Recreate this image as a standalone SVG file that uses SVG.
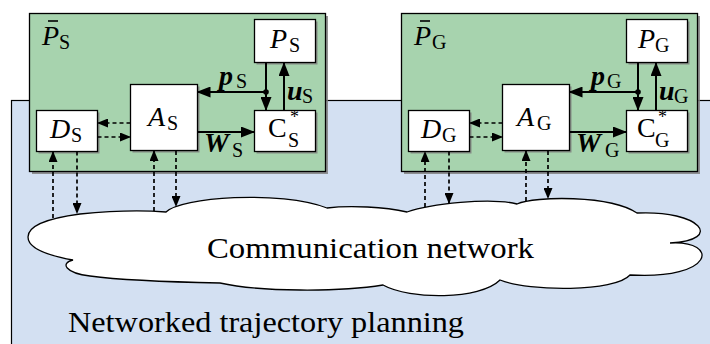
<svg xmlns="http://www.w3.org/2000/svg" width="710" height="344" viewBox="0 0 710 344">
<defs>
<marker id="ah" markerUnits="userSpaceOnUse" markerWidth="14" markerHeight="11" refX="13" refY="5.5" orient="auto"><path d="M0,0 L14,5.5 L0,11 Z" fill="#000"/></marker>
<marker id="ahd" markerUnits="userSpaceOnUse" markerWidth="11" markerHeight="9" refX="10" refY="4.5" orient="auto"><path d="M0,0 L11,4.5 L0,9 Z" fill="#000"/></marker>
</defs>
<style>
.box{fill:#fff;stroke:#000;stroke-width:1.3}
.sh{fill:#808080;opacity:0.85}
.grn{fill:#a7d3ae;stroke:#000;stroke-width:1.3}
.m{font-family:"Liberation Serif",serif;font-style:italic;font-size:28px}
.b{font-family:"Liberation Serif",serif;font-style:italic;font-weight:bold;font-size:28px}
.r{font-family:"Liberation Serif",serif;font-size:28px}
.sub{font-family:"Liberation Serif",serif;font-size:20px}
.star{font-family:"Liberation Serif",serif;font-size:18px}
.big{font-family:"Liberation Serif",serif;font-size:30px}
.bar{stroke:#000;stroke-width:1.6}
.sol{stroke:#000;stroke-width:2;fill:none;marker-end:url(#ah)}
.dsh{stroke:#000;stroke-width:1.7;fill:none;stroke-dasharray:4 3;marker-end:url(#ahd)}
</style>
<g id="environment">
<rect x="11.5" y="100.5" width="710" height="300" fill="#d3e0f2" stroke="#000" stroke-width="1.2"/>
<text class="big" x="68" y="332" textLength="396" lengthAdjust="spacingAndGlyphs">Networked trajectory planning</text>
</g>
<g id="cloud">
<path d="M73,260 C45,255 28,248 28,237 C28,225 50,218 80,214 C110,211 140,210 166,212 C180,197 280,190 327,208 C350,205 385,207 407,212 C430,204 490,197 517,204 C535,196 610,195 637,213 C700,210 725,240 670,243 C720,240 715,280 630,275 C615,292 530,292 500,280 C480,300 410,300 383,285 C340,292 260,292 220,283 C170,282 120,280 90,276 C65,273 60,263 73,260 Z" fill="#fff" stroke="#000" stroke-width="1.3"/>
<text class="big" x="207" y="258" textLength="327" lengthAdjust="spacingAndGlyphs">Communication network</text>
</g>
<g id="PbarS">
<rect class="sh" x="32" y="16" width="296" height="158"/>
<rect class="grn" x="29.5" y="13.5" width="296" height="158"/>
<text class="m" x="42" y="45">P</text><line class="bar" x1="48" y1="21" x2="58" y2="21"/>
<text class="sub" x="59" y="49">S</text>
</g>
<g id="PbarG">
<rect class="sh" x="404" y="16" width="296" height="158"/>
<rect class="grn" x="401.5" y="13.5" width="296" height="158"/>
<text class="m" x="414" y="45">P</text><line class="bar" x1="420" y1="21" x2="430" y2="21"/>
<text class="sub" x="432" y="49">G</text>
</g>
<g id="PS">
<rect class="sh" x="256.5" y="21.5" width="61" height="43"/>
<rect class="box" x="254.5" y="19.5" width="61" height="43"/>
<text class="m" x="270" y="48">P</text><text class="sub" x="289" y="52">S</text>
</g>
<g id="AS">
<rect class="sh" x="132.5" y="86.5" width="67" height="66"/>
<rect class="box" x="130.5" y="84.5" width="67" height="66"/>
<text class="m" x="148" y="126">A</text><text class="sub" x="167" y="130">S</text>
</g>
<g id="DS">
<rect class="sh" x="38.5" y="112.5" width="61" height="41"/>
<rect class="box" x="36.5" y="110.5" width="61" height="41"/>
<text class="m" x="50" y="138">D</text><text class="sub" x="71" y="142">S</text>
</g>
<g id="CS">
<rect class="sh" x="256.5" y="112.5" width="61" height="41"/>
<rect class="box" x="254.5" y="110.5" width="61" height="41"/>
<text class="r" x="268" y="137">C</text><text class="star" x="290" y="123">*</text><text class="sub" x="288" y="147">S</text>
</g>
<g id="PG">
<rect class="sh" x="628.5" y="21.5" width="61" height="43"/>
<rect class="box" x="626.5" y="19.5" width="61" height="43"/>
<text class="m" x="638" y="48">P</text><text class="sub" x="655" y="52">G</text>
</g>
<g id="AG">
<rect class="sh" x="504.5" y="86.5" width="67" height="66"/>
<rect class="box" x="502.5" y="84.5" width="67" height="66"/>
<text class="m" x="517" y="126">A</text><text class="sub" x="537" y="130">G</text>
</g>
<g id="DG">
<rect class="sh" x="410.5" y="112.5" width="61" height="41"/>
<rect class="box" x="408.5" y="110.5" width="61" height="41"/>
<text class="m" x="421" y="138">D</text><text class="sub" x="442" y="142">G</text>
</g>
<g id="CG">
<rect class="sh" x="628.5" y="112.5" width="61" height="41"/>
<rect class="box" x="626.5" y="110.5" width="61" height="41"/>
<text class="r" x="637" y="137">C</text><text class="star" x="658" y="123">*</text><text class="sub" x="655" y="147">G</text>
</g>
<g id="connectors">
<line class="sol" x1="266" y1="62.5" x2="266" y2="110"/>
<line class="sol" x1="266" y1="92" x2="197.5" y2="92"/>
<circle cx="266" cy="92" r="2.8" fill="#000"/>
<line class="sol" x1="284" y1="110.5" x2="284" y2="63"/>
<line class="sol" x1="197.5" y1="132" x2="254" y2="132"/>
<line class="dsh" x1="130.5" y1="123" x2="98" y2="123"/>
<line class="dsh" x1="97.5" y1="137" x2="130" y2="137"/>
<line class="dsh" x1="53" y1="218" x2="53" y2="152"/>
<line class="dsh" x1="77" y1="151.5" x2="77" y2="213"/>
<line class="dsh" x1="154" y1="211" x2="154" y2="151"/>
<line class="dsh" x1="176" y1="151" x2="176" y2="206"/>
<line class="sol" x1="638" y1="62.5" x2="638" y2="110"/>
<line class="sol" x1="638" y1="92" x2="569.5" y2="92"/>
<circle cx="638" cy="92" r="2.8" fill="#000"/>
<line class="sol" x1="656" y1="110.5" x2="656" y2="63"/>
<line class="sol" x1="569.5" y1="132" x2="626" y2="132"/>
<line class="dsh" x1="502.5" y1="123" x2="470" y2="123"/>
<line class="dsh" x1="469.5" y1="137" x2="502" y2="137"/>
<line class="dsh" x1="425" y1="207" x2="425" y2="152"/>
<line class="dsh" x1="449" y1="151.5" x2="449" y2="203"/>
<line class="dsh" x1="526" y1="201" x2="526" y2="151"/>
<line class="dsh" x1="548" y1="151" x2="548" y2="198"/>
<text class="b" x="219" y="85">p</text><text class="sub" x="236" y="88">S</text>
<text class="b" x="287" y="100">u</text><text class="sub" x="302" y="103">S</text>
<text class="b" x="204" y="152">W</text><text class="sub" x="232" y="157">S</text>
<text class="b" x="591" y="85">p</text><text class="sub" x="607" y="88">G</text>
<text class="b" x="659" y="100">u</text><text class="sub" x="674" y="103">G</text>
<text class="b" x="576" y="152">W</text><text class="sub" x="605" y="157">G</text>
</g>
</svg>
